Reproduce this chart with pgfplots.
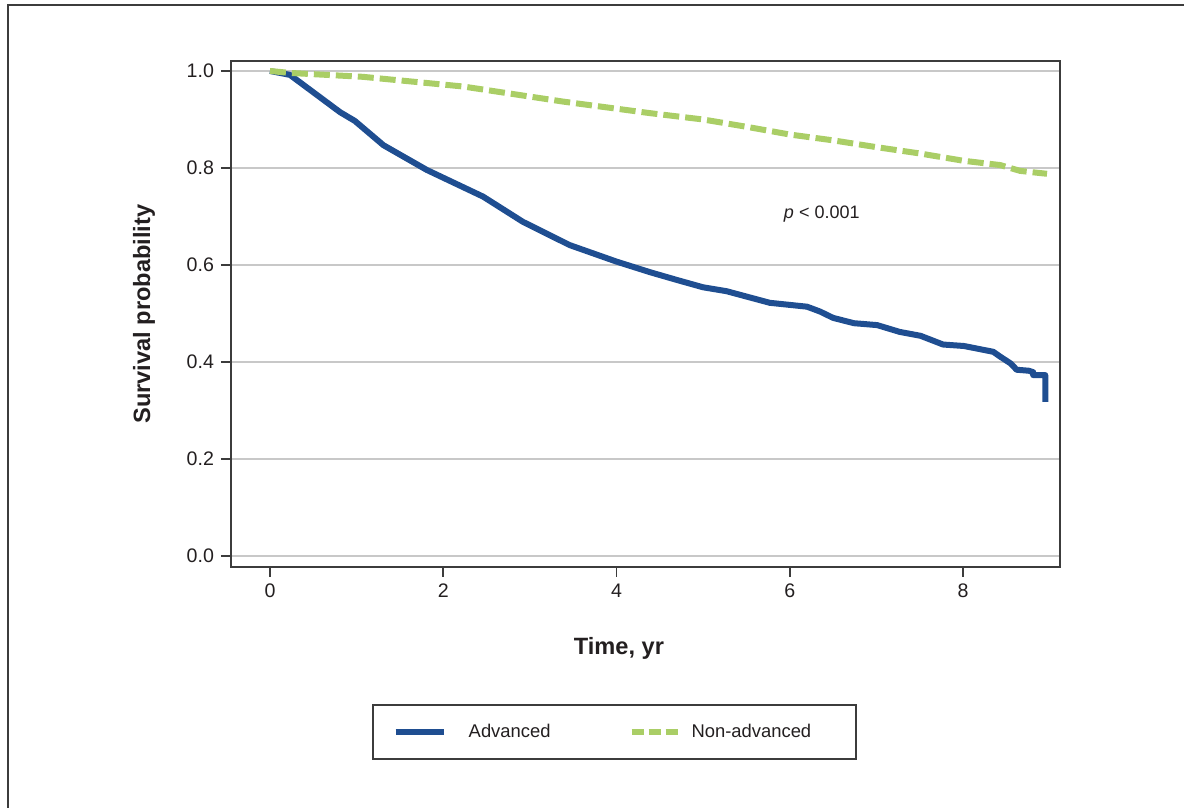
\documentclass[border=0pt]{standalone}
\usepackage{pgfplots}
\pgfplotsset{compat=1.18}
\usepackage{fontspec}
\setmainfont{Liberation Sans}
\definecolor{advblue}{RGB}{31,78,145}
\definecolor{nongreen}{RGB}{170,206,102}
\definecolor{txt}{RGB}{35,31,32}
\definecolor{gridgray}{RGB}{200,200,200}
\definecolor{framegray}{RGB}{60,60,60}
\begin{document}
\begin{tikzpicture}
% page: 1184 x 808 px at 0.5pt per px, origin at lower left of the axis box
\useasboundingbox (-115.5pt,-120.5pt) rectangle (476.5pt,283.5pt);
\draw[line width=1pt, framegray] (-111.5pt,-121pt) -- (-111.5pt,281pt) -- (477pt,281pt);
\begin{axis}[
    scale only axis,
    width=414.5pt,
    height=253pt,
    xmin=-0.45, xmax=9.12,
    ymin=-0.0227, ymax=1.0206,
    xtick={0,2,4,6,8},
    ytick={0,0.2,0.4,0.6,0.8,1.0},
    yticklabel style={/pgf/number format/.cd, fixed, fixed zerofill, precision=1},
    /pgf/number format/assume math mode=true,
    tick label style={font=\fontsize{9.8}{11}\selectfont, text=txt},
    tick align=outside,
    tick pos=left,
    major tick length=5pt,
    tick style={framegray, line width=0.8pt},
    axis line style={framegray, line width=0.8pt},
    ymajorgrids=true,
    grid style={gridgray, line width=1pt},
    xlabel={\textbf{Time, yr}},
    ylabel={\textbf{Survival probability}},
    label style={font=\fontsize{11.8}{13}\selectfont, text=txt},
    xlabel style={at={(axis description cs:0.468,-0.16)}, anchor=center},
    ylabel style={at={(axis description cs:-0.105,0.5)}, anchor=center},
    legend columns=2,
    legend style={at={(axis description cs:0.170,-0.326)}, anchor=west,
        draw=framegray, line width=0.8pt, inner xsep=10pt, inner ysep=7.5pt,
        font=\fontsize{9.2}{11}\selectfont, text=txt,
        /tikz/every odd column/.append style={column sep=9pt},
        /tikz/every even column/.append style={column sep=37pt}},
    legend cell align=left,
]
\addplot[advblue, line width=3pt, line join=round,
    legend image code/.code={\draw[advblue, line width=3pt] (0pt,0pt) -- (24pt,0pt);}]
coordinates {
    (0,1.0) (0.23,0.992) (0.81,0.915) (0.98,0.897) (1.31,0.847)
    (1.81,0.796) (2.46,0.741) (2.92,0.689) (3.46,0.641) (4.00,0.607)
    (4.39,0.585) (4.70,0.569) (5.00,0.554) (5.27,0.546) (5.77,0.522)
    (6.20,0.514) (6.35,0.504) (6.50,0.491) (6.74,0.480) (7.01,0.476)
    (7.27,0.462) (7.51,0.454) (7.77,0.436) (8.01,0.433) (8.35,0.421)
    (8.43,0.411) (8.55,0.397) (8.62,0.384) (8.76,0.382) (8.81,0.379)
    (8.81,0.373) (8.95,0.373) (8.95,0.318)
};
\addlegendentry{Advanced}
\addplot[nongreen, line width=3pt, dash pattern=on 8pt off 3pt,
    legend image code/.code={\draw[nongreen, line width=3pt, dash pattern=on 6pt off 2.5pt] (0pt,0pt) -- (24pt,0pt);}]
coordinates {
    (0,1.0) (0.23,0.996) (1.07,0.988) (2.23,0.968) (3.38,0.937)
    (4.39,0.913) (5.0,0.900) (5.5,0.885) (6.0,0.869) (6.5,0.857)
    (7.0,0.843) (7.5,0.830) (8.0,0.815) (8.43,0.806) (8.66,0.794)
    (8.97,0.788)
};
\addlegendentry{\hspace*{-6.5pt}Non-advanced\hspace*{10.5pt}}
\node[font=\fontsize{9}{11}\selectfont, text=txt] at (axis cs:6.37,0.705) {\textit{p} < 0.001};
\end{axis}
\end{tikzpicture}
\end{document}
